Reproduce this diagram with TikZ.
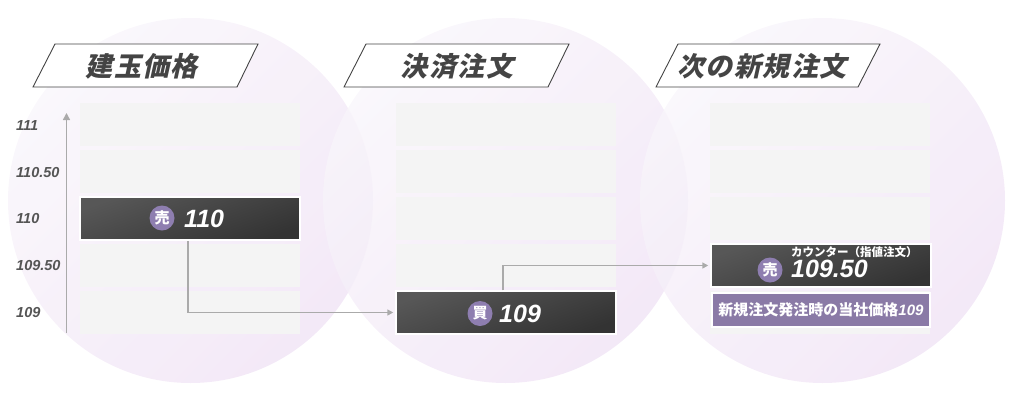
\documentclass[tikz,border=0pt]{standalone}
\usepackage{fontspec}
\setmainfont{Liberation Sans}
\newfontfamily\jp{Noto Sans CJK JP}
\newfontfamily\hdrfont[FakeSlant=0.22,LetterSpace=5]{Noto Sans CJK JP}
\usetikzlibrary{arrows.meta}
\definecolor{rowgray}{HTML}{F4F4F4}
\definecolor{badgec}{HTML}{8E7EB0}
\definecolor{purplebox}{HTML}{8A7AA6}
\definecolor{hdrc}{HTML}{444444}
\definecolor{connc}{HTML}{AAAAAA}
\definecolor{circa}{HTML}{F9F6FB}
\definecolor{circb}{HTML}{F0E3F5}
\definecolor{lblc}{HTML}{555555}
\tikzset{
  hdrbox/.style={draw=hdrc, fill=white, line width=0.9pt},
  hdrtext/.style={font=\hdrfont\bfseries\fontsize{27}{29}\selectfont, text=hdrc, inner sep=0pt},
  rowbox/.style={fill=rowgray, draw=none, minimum width=220pt, minimum height=43pt, inner sep=0pt, anchor=north west},
  darkbox/.style={draw=white, line width=1.5pt, shading=axis, top color=black!66, bottom color=black!80, shading angle=20, minimum width=220pt, minimum height=43pt, inner sep=0pt},
  pbox/.style={draw=white, line width=1.5pt, fill=purplebox, minimum width=218pt, minimum height=34pt, inner sep=0pt, text=white, font=\jp\bfseries\fontsize{15}{16}\selectfont},
  badge/.style={circle, fill=badgec, minimum size=25pt, inner sep=0pt, text=white, font=\jp\bfseries\fontsize{15}{16}\selectfont},
  numtxt/.style={text=white, font=\bfseries\itshape\fontsize{25}{27}\selectfont, inner sep=0pt, anchor=west},
  smalltxt/.style={text=white, font=\jp\bfseries\fontsize{11.5}{12}\selectfont, inner sep=0pt, anchor=west},
  axlbl/.style={text=lblc, font=\bfseries\itshape\fontsize{14.5}{16}\selectfont, inner sep=0pt, anchor=west},
  conn/.style={draw=connc, line width=1.5pt, -{Triangle[length=6pt,width=6pt]}, shorten >=2pt},
  axisline/.style={draw=connc, line width=1.5pt, -{Triangle[length=7pt,width=7pt]}},
  bigcircle/.style={top color=circa, bottom color=circb, shading angle=45, fill opacity=0.8}
}
\begin{document}
\begin{tikzpicture}[x=1pt,y=-1pt]
\useasboundingbox (0,0) rectangle (1012,400);
% circles
\foreach \cx in {190.5,505.5,822.5}
  \shade[bigcircle] (\cx,200.5) circle (182.5);
% headers
\draw[hdrbox] (55,44) -- (258,44) -- (237,87) -- (33,87) -- cycle;
\node[hdrtext] (h1) at (142,66) {建玉価格};
\draw[hdrbox] (366,44) -- (569,44) -- (548,87) -- (344,87) -- cycle;
\node[hdrtext] (h2) at (457,66) {決済注文};
\draw[hdrbox] (678,44) -- (880,44) -- (858,87) -- (656,87) -- cycle;
\node[hdrtext] (h3) at (762,66) {次の新規注文};
% rows
\foreach \rx in {80,396,710}
  \foreach \ry in {103,150,197,244,291}
    \node[rowbox] at (\rx,\ry) {};
% axis
\coordinate (axb) at (66.5,333);
\coordinate (axt) at (66.5,113);
\draw[axisline] (axb) -- (axt);
\node[axlbl] (l1) at (16,126) {111};
\node[axlbl] (l2) at (16,173) {110.50};
\node[axlbl] (l3) at (16,219) {110};
\node[axlbl] (l4) at (16,266) {109.50};
\node[axlbl] (l5) at (16,313) {109};
% dark boxes
\node[darkbox] (sell1) at (190,218.5) {};
\node[badge] (b1) at (162,218) {売};
\node[numtxt] (n1) at (184,219) {110};
\node[darkbox] (buy) at (506,312.5) {};
\node[badge] (b2) at (480,313.5) {買};
\node[numtxt] (n2) at (499,314) {109};
\node[darkbox] (sell2) at (821,265.5) {};
\node[badge] (b3) at (770,270) {売};
\node[numtxt] (n3) at (791,268.5) {109.50};
\node[smalltxt] (s3) at (791,252) {カウンター（指値注文）};
\node[pbox] (pb) at (821,310) {新規注文発注時の当社価格{\rmfamily\itshape 109}};
% connectors
\draw[conn] ([xshift=-2pt]sell1.south) |- (buy.west);
\draw[conn] ([xshift=-3pt]buy.north) |- (sell2.west);
\end{tikzpicture}
\end{document}
